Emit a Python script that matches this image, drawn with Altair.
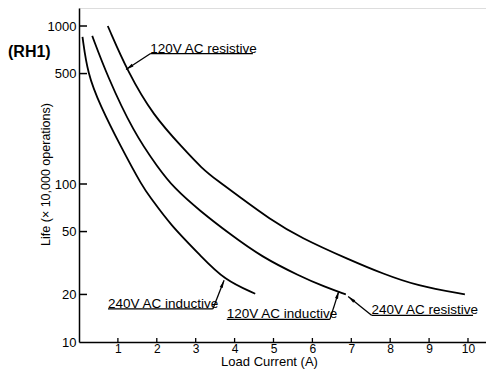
import math
import altair as alt
import pandas as pd

# ---- curve data ----
ind240_x = [0.09, 0.22, 0.54, 1.06, 1.65, 1.83, 2.34, 3.16, 3.73, 4.53]
ind240_y = [853, 500, 316, 175, 94.4, 82.9, 55.4, 34.5, 24.8, 20.2]

ind120_x = [0.34, 0.72, 1.40, 2.04, 2.44, 3.11, 3.88, 4.70, 5.68, 6.30, 6.86]
ind120_y = [866, 487, 213, 126, 94.4, 67.5, 48.2, 34.5, 26.1, 22.4, 20.0]

res120_x = [0.74, 1.26, 1.91, 2.68, 3.15, 3.58, 4.05, 4.91, 5.68, 6.97, 7.82, 8.68, 9.92]
res120_y = [1000, 508, 271, 168, 126, 104, 85.7, 59.8, 45.9, 33.0, 27.0, 22.7, 20.0]

x_ticks = [1, 2, 3, 4, 5, 6, 7, 8, 9, 10]
y_labels = [10, 20, 50, 100, 500, 1000]
y_ticks = [20, 50, 100, 500, 1000]

ann_text = ["120V AC resistive", "240V AC inductive", "120V AC inductive", "240V AC resistive"]
ann_x = [1.83, 0.745, 3.80, 7.52]
ann_y = [718, 17.4, 15.0, 15.85]
ul_x2 = [4.47, 3.44, 6.45, 10.13]
ul_y = [668, 16.2, 13.9, 14.75]
arr_x1 = [1.83, 3.44, 6.45, 7.52]
arr_y1 = [668, 16.2, 13.9, 14.75]
arr_x2 = [1.21, 3.73, 6.68, 6.92]
arr_y2 = [531, 24.6, 21.0, 19.4]

# ---- layout (whole svg kept inside the 494x378 window) ----
W, H = 407, 334
X_MAX = 10.463
Y_MIN, Y_MAX = 10, 1300
FONT = "Liberation Sans, Arial, Helvetica, sans-serif"


def to_px(x, y):
    px = x / X_MAX * W
    py = H - (math.log10(y) - math.log10(Y_MIN)) / (math.log10(Y_MAX) - math.log10(Y_MIN)) * H
    return px, py


xs = alt.Scale(domain=[0, X_MAX], nice=False, zero=False)
ys = alt.Scale(type="log", domain=[Y_MIN, Y_MAX], nice=False)

rows = []
for name, xv, yv in [("240ind", ind240_x, ind240_y), ("120ind", ind120_x, ind120_y), ("120res", res120_x, res120_y)]:
    for a, b in zip(xv, yv):
        rows.append({"x": a, "y": b, "s": name})
curves = pd.DataFrame(rows)

x_axis = alt.Axis(
    values=x_ticks, format="d", ticks=False, tickSize=0, grid=False,
    domainColor="black", domainWidth=1.5, labelColor="black",
    labelFont=FONT, labelFontSize=12, labelPadding=1,
    title="Load Current (A)", titleFont=FONT, titleFontSize=13,
    titleFontWeight="normal", titleColor="black",
    titleAlign="center", titleBaseline="middle", titleX=190, titleY=19.5,
)
y_axis = alt.Axis(
    values=y_labels, format="d", ticks=False, tickSize=0, grid=False,
    domainColor="black", domainWidth=1.5, labelColor="black",
    labelFont=FONT, labelFontSize=13, labelPadding=3,
    title="Life (× 10,000 operations)", titleFont=FONT, titleFontSize=12.5,
    titleFontWeight="normal", titleColor="black", titleAngle=270,
    titleAlign="center", titleBaseline="middle", titleX=-34, titleY=166,
)


def X(f):
    return alt.X(f, type="quantitative", scale=xs, axis=x_axis)


def Y(f):
    return alt.Y(f, type="quantitative", scale=ys, axis=y_axis)


lines = alt.Chart(curves).mark_line(
    color="black", strokeWidth=1.8, interpolate="basis"
).encode(x=X("x"), y=Y("y"), detail="s:N")

ytick = alt.Chart(pd.DataFrame({"v": y_ticks})).mark_rule(color="black", strokeWidth=1.5).encode(
    y=Y("v"), x=alt.value(0), x2=alt.value(8)
)
xtick = alt.Chart(pd.DataFrame({"v": x_ticks})).mark_rule(color="black", strokeWidth=1.3).encode(
    x=X("v"), y=alt.value(H), y2=alt.value(H - 4)
)

texts = alt.Chart(pd.DataFrame({"x": ann_x, "y": ann_y, "t": ann_text})).mark_text(
    align="left", baseline="middle", font=FONT, fontSize=13.5, color="black"
).encode(x=X("x"), y=Y("y"), text="t:N")

underl = alt.Chart(pd.DataFrame({"x": ann_x, "x2": ul_x2, "y": ul_y})).mark_rule(
    color="black", strokeWidth=1.3
).encode(x=X("x"), x2="x2:Q", y=Y("y"))

arrow_df = pd.DataFrame({"x1": arr_x1, "y1": arr_y1, "x2": arr_x2, "y2": arr_y2})
angles = []
for a, b, c, d in zip(arr_x1, arr_y1, arr_x2, arr_y2):
    p1 = to_px(a, b)
    p2 = to_px(c, d)
    dx, dy = p2[0] - p1[0], p2[1] - p1[1]
    angles.append(math.degrees(math.atan2(dx, -dy)) % 360)
arrow_df["ang"] = angles

shafts = alt.Chart(arrow_df).mark_rule(color="black", strokeWidth=1.3).encode(
    x=X("x1"), y=Y("y1"), x2="x2:Q", y2="y2:Q",
)
heads = alt.Chart(arrow_df).mark_point(
    shape="M0,0L0.45,2.2L-0.45,2.2Z", filled=True, size=50, color="black", opacity=1, strokeWidth=0
).encode(x=X("x2"), y=Y("y2"), angle=alt.Angle("ang:Q", scale=None))

label = alt.Chart(pd.DataFrame({"t": ["(RH1)"]})).mark_text(
    align="left", baseline="middle", font=FONT, fontSize=16, fontWeight="bold", color="black"
).encode(x=alt.value(-71), y=alt.value(44), text="t:N")

chart = alt.layer(lines, ytick, xtick, underl, shafts, heads, texts, label).properties(
    width=W, height=H,
    autosize=alt.AutoSizeParams(type="none"),
    padding={"left": 71, "top": 0, "right": 0, "bottom": 28},
).configure_view(strokeWidth=0).configure(background="white")

chart.save("out.html", embed_options={"renderer": "svg", "actions": False})
